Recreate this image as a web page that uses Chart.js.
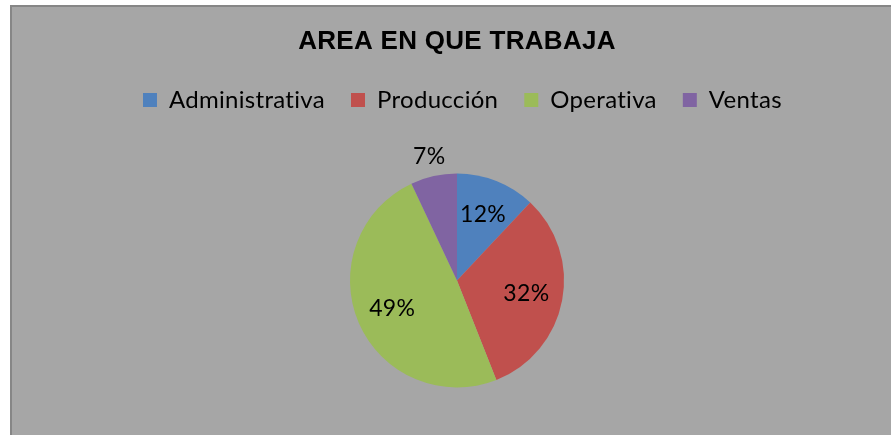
<!DOCTYPE html>
<html>
<head>
<meta charset="utf-8">
<script src="https://cdn.jsdelivr.net/npm/chart.js@4"></script>
<style>
  html, body { margin: 0; padding: 0; background: #ffffff; overflow: hidden; }
  .frame {
    position: absolute; left: 10px; top: 5px; width: 1000px; height: 500px;
    background: #a6a6a6; border-left: 2px solid #868686; border-top: 2px solid #868686;
  }
  .frame canvas { position: absolute; left: 0; top: 0; }
</style>
</head>
<body>
<div class="frame">
  <canvas id="myChart" width="890" height="440" style="width:890px;height:440px"></canvas>
</div>
<script>
const areas = ['Administrativa', 'Producción', 'Operativa', 'Ventas'];
const percents = [12, 32, 49, 7];
const sliceColors = ['#4f81bd', '#c0504d', '#9bbb59', '#8064a2'];

// tiny letter spacing so Lato does not join "ti" into a ligature
const noLigatures = {
  id: 'noLigatures',
  beforeDraw(chart) {
    chart.ctx.letterSpacing = '0.3px';
  }
};

// percentage labels, inside the slice or just outside when it is small
const pctLabels = {
  id: 'pctLabels',
  afterDatasetsDraw(chart) {
    const ctx = chart.ctx;
    const meta = chart.getDatasetMeta(0);
    ctx.save();
    ctx.font = '23px Lato';
    ctx.fillStyle = '#000000';
    ctx.textAlign = 'center';
    ctx.textBaseline = 'middle';
    meta.data.forEach((arc, i) => {
      const p = arc.getProps(['x', 'y', 'startAngle', 'endAngle', 'outerRadius'], true);
      const mid = (p.startAngle + p.endAngle) / 2;
      const r = percents[i] < 10 ? p.outerRadius * 1.19 : p.outerRadius * 0.66;
      ctx.fillText(percents[i] + '%', p.x + Math.cos(mid) * r, p.y + Math.sin(mid) * r);
    });
    ctx.restore();
  }
};

let ctx = document.getElementById('myChart').getContext('2d');

let chart = new Chart(ctx, {
  type: 'pie',
  data: {
    labels: areas,
    datasets: [{
      data: percents,
      backgroundColor: sliceColors,
      borderWidth: 0,
      radius: 107
    }]
  },
  options: {
    responsive: false,
    animation: false,
    layout: { padding: { top: 0, bottom: 8 } },
    plugins: {
      title: {
        display: true,
        text: 'AREA EN QUE TRABAJA',
        color: '#000000',
        font: { family: 'Liberation Sans', size: 26, weight: 'bold', lineHeight: 1.0 },
        padding: { top: 22, bottom: 7 }
      },
      legend: {
        position: 'top',
        labels: {
          color: '#000000',
          font: { family: 'Lato', size: 24 },
          boxWidth: 14,
          boxHeight: 14,
          padding: 26
        }
      },
      tooltip: { enabled: false }
    }
  },
  plugins: [noLigatures, pctLabels]
});
</script>
</body>
</html>
